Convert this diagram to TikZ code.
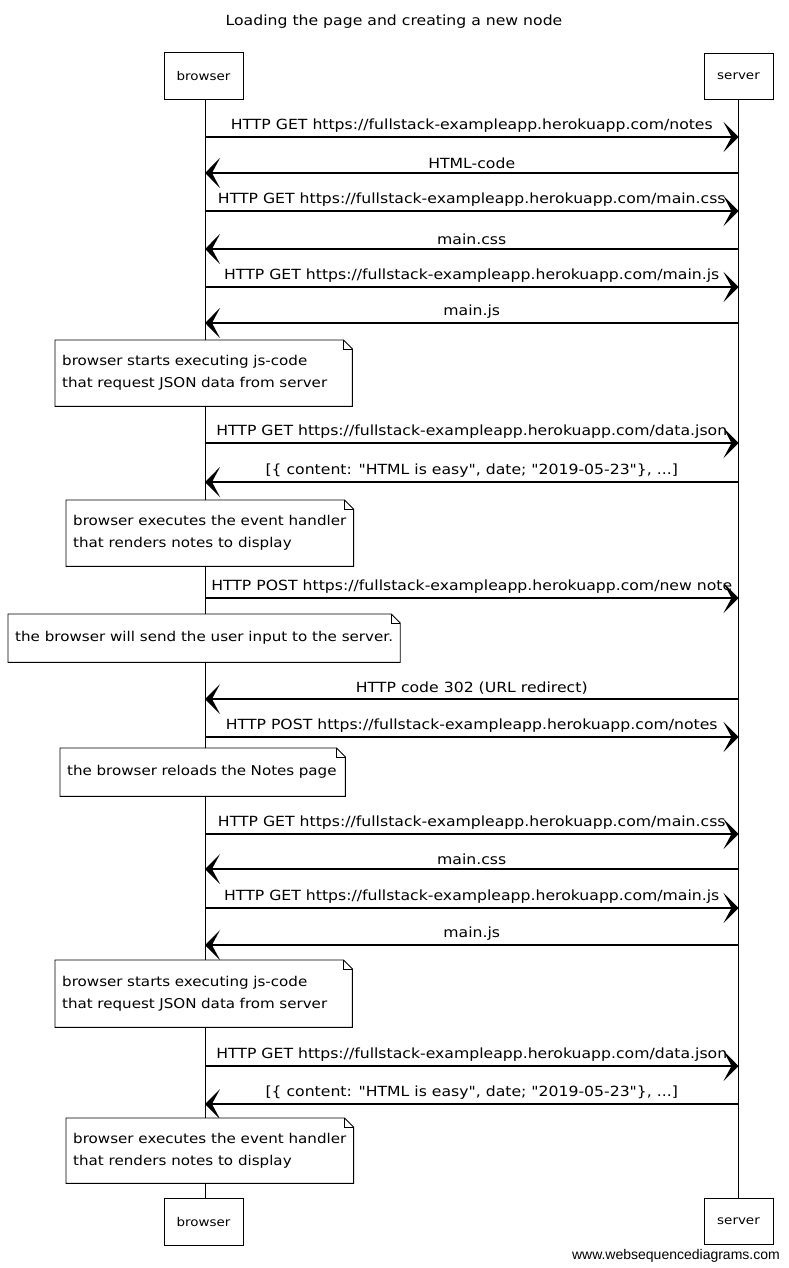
\documentclass[tikz,border=0pt]{standalone}
\usepackage{fontspec}
\setmainfont{DejaVu Sans}[FakeStretch=1.12, Ligatures=TeXOff]
\newfontfamily\wmfont{Liberation Sans}
\usetikzlibrary{arrows.meta}

\tikzset{
  actor/.style={draw, line width=0.9pt, fill=white, minimum width=#1, minimum height=47pt, inner sep=0pt, font=\fontsize{12}{14}\selectfont},
  lifeline/.style={line width=0.8pt},
  msg/.style={line width=1.1pt, -{Stealth[length=15pt,width=30pt,inset=8pt]}},
  lbl/.style={midway, above=3pt, inner sep=1pt, font=\fontsize{14}{16}\selectfont},
  note/.style={anchor=north west, fill=white, align=left, inner xsep=7pt, inner ysep=0pt, font=\fontsize{13.5}{22}\selectfont},
  noteline/.style={line width=0.9pt}
}
% dog-eared outline around a note node
\newcommand\notefold[1]{%
  \draw[noteline] (#1.south west) -- (#1.north west) -- ([xshift=-9pt]#1.north east)
    -- ([yshift=-9pt]#1.north east) -- (#1.south east) -- cycle;
  \draw[noteline, line width=0.6pt] ([xshift=-9pt]#1.north east) -- ([xshift=-9pt,yshift=-9pt]#1.north east)
    -- ([yshift=-9pt]#1.north east);
}

\begin{document}
\begin{tikzpicture}[x=1pt, y=-1pt]
\useasboundingbox (0,0) rectangle (788,1268);

% title
\node[font=\fontsize{14}{16}\selectfont] (title) at (394,22) {Loading the page and creating a new node};

% participants
\node[actor=79pt] (btop) at (203.5,76) {browser};
\node[actor=69pt, minimum height=46pt] (stop) at (738.5,76) {server};
\node[actor=79pt] (bbot) at (203.5,1222) {browser};
\node[actor=69pt, minimum height=46pt] (sbot) at (738.5,1221) {server};

% lifelines
\draw[lifeline] (btop.south) ++(1.5,0) coordinate (bl0) (bl0) -- (bl0 |- bbot.north) coordinate (bl1);
\draw[lifeline] (stop.south) -- (sbot.north);

% message anchor points on both lifelines
\foreach \i/\y in {1/137,2/173,3/211,4/249,5/287,6/323,7/443,8/482,9/598,
                   10/699,11/737,12/834,13/869,14/908,15/945,16/1066,17/1104}{
  \coordinate (b\i) at (bl0 |- 0,\y);
  \coordinate (s\i) at (stop.south |- 0,\y);
}

% first page load
\draw[msg] (b1) -- node[lbl] {HTTP GET https://fullstack-exampleapp.herokuapp.com/notes} (s1);
\draw[msg] (s2) -- node[lbl] {HTML-code} (b2);
\draw[msg] (b3) -- node[lbl] {HTTP GET https://fullstack-exampleapp.herokuapp.com/main.css} (s3);
\draw[msg] (s4) -- node[lbl] {main.css} (b4);
\draw[msg] (b5) -- node[lbl] {HTTP GET https://fullstack-exampleapp.herokuapp.com/main.js} (s5);
\draw[msg] (s6) -- node[lbl] {main.js} (b6);

\node[note, text width=283pt, minimum height=66pt] (n1) at (55,340)
  {browser starts executing js-code\\that request JSON data from server};
\notefold{n1}

\draw[msg] (b7) -- node[lbl] {HTTP GET https://fullstack-exampleapp.herokuapp.com/data.json} (s7);
\draw[msg] (s8) -- node[lbl] {[\{ content: "HTML is easy", date; "2019-05-23"\}, ...]} (b8);

\node[note, minimum height=66pt] (n2) at (66,500)
  {browser executes the event handler\\that renders notes to display};
\notefold{n2}

% submitting a new note
\draw[msg] (b9) -- node[lbl] {HTTP POST https://fullstack-exampleapp.herokuapp.com/new note} (s9);

\node[note, minimum height=48pt] (n3) at (8,614)
  {the browser will send the user input to the server.};
\notefold{n3}

\draw[msg] (s10) -- node[lbl] {HTTP code 302 (URL redirect)} (b10);
\draw[msg] (b11) -- node[lbl] {HTTP POST https://fullstack-exampleapp.herokuapp.com/notes} (s11);

\node[note, text width=271pt, minimum height=48pt] (n4) at (60,748)
  {the browser reloads the Notes page};
\notefold{n4}

% reload
\draw[msg] (b12) -- node[lbl] {HTTP GET https://fullstack-exampleapp.herokuapp.com/main.css} (s12);
\draw[msg] (s13) -- node[lbl] {main.css} (b13);
\draw[msg] (b14) -- node[lbl] {HTTP GET https://fullstack-exampleapp.herokuapp.com/main.js} (s14);
\draw[msg] (s15) -- node[lbl] {main.js} (b15);

\node[note, text width=283pt, minimum height=67pt] (n5) at (55,960)
  {browser starts executing js-code\\that request JSON data from server};
\notefold{n5}

\draw[msg] (b16) -- node[lbl] {HTTP GET https://fullstack-exampleapp.herokuapp.com/data.json} (s16);
\draw[msg] (s17) -- node[lbl] {[\{ content: "HTML is easy", date; "2019-05-23"\}, ...]} (b17);

\node[note, minimum height=65pt] (n6) at (66,1118)
  {browser executes the event handler\\that renders notes to display};
\notefold{n6}

% footer
\node[anchor=base east, inner sep=0pt, font=\wmfont\fontsize{14}{16}\selectfont] (wm) at (780,1259)
  {www.websequencediagrams.com};
\end{tikzpicture}
\end{document}
